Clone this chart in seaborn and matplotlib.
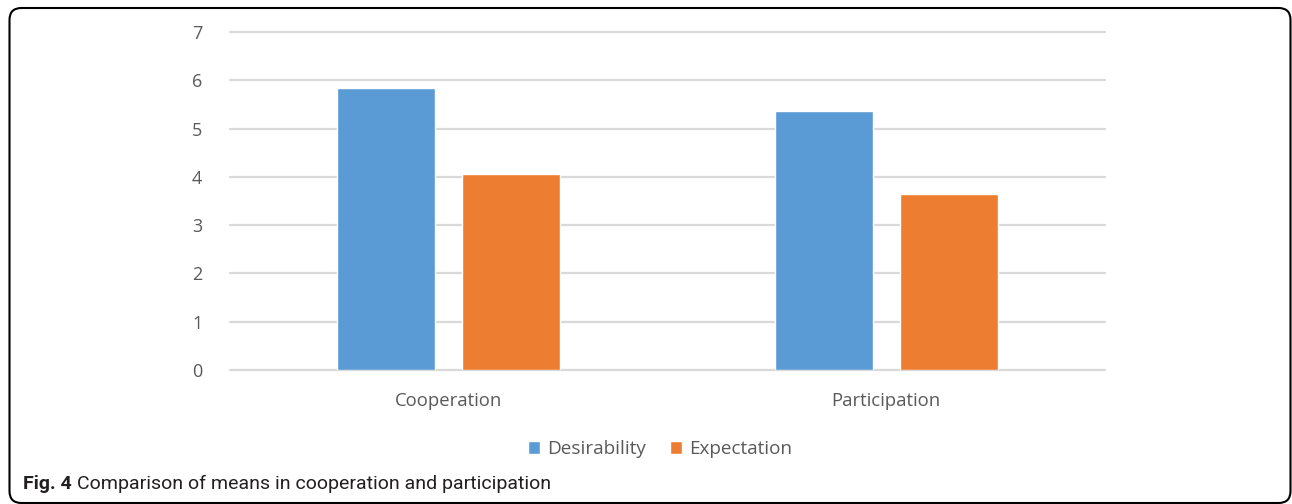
import pandas as pd
import matplotlib.pyplot as plt
import seaborn as sns
from matplotlib.patches import FancyBboxPatch
from matplotlib.transforms import IdentityTransform

# values
categories = ["Cooperation", "Participation"]
series = ["Desirability", "Expectation"]
desirability = [5.83, 5.37]
expectation = [4.05, 3.65]
y_ticks = [0, 1, 2, 3, 4, 5, 6, 7]

df = pd.DataFrame({
    "category": categories * 2,
    "series": [series[0]] * 2 + [series[1]] * 2,
    "value": desirability + expectation,
})

sns.set_style("white")
plt.rcParams["font.family"] = ["Open Sans", "DejaVu Sans"]
text_color = "#595959"

fig = plt.figure(figsize=(12.92, 5.04), dpi=100)
ax = fig.add_axes([230 / 1292, 1 - 370 / 504, 875 / 1292, 338 / 504])

sns.barplot(
    data=df, x="category", y="value", hue="series",
    palette=["#5B9BD5", "#ED7D31"], saturation=1, width=0.571, gap=0.216,
    ax=ax, legend=True, zorder=3,
)

ax.set_xlim(-0.5, 1.5)
ax.set_ylim(0, 7)
ax.set_yticks(y_ticks)
ax.grid(axis="y", color="#d9d9d9", linewidth=1.6, zorder=0)
for gl in ax.get_ygridlines():
    gl.set_clip_on(False)
ax.set_axisbelow(True)
for s in ax.spines.values():
    s.set_visible(False)
ax.set_xlabel("")
ax.set_ylabel("")
ax.tick_params(axis="y", length=0, pad=20, labelsize=13, labelcolor=text_color)
ax.tick_params(axis="x", length=0, pad=16, labelsize=13.3, labelcolor=text_color)

handles, labels = ax.get_legend_handles_labels()
ax.legend(
    handles, labels, loc="center", ncol=2, frameon=False,
    bbox_to_anchor=(660 / 1292, 1 - 449 / 504), bbox_transform=fig.transFigure,
    handlelength=0.64, handleheight=0.64, handletextpad=0.37,
    columnspacing=1.25, fontsize=13.6, labelcolor=text_color,
)

# caption
cap_font = ["Roboto", "DejaVu Sans"]
fig.text(23 / 1292, 1 - 484 / 504, "Fig. 4", fontsize=14, fontweight="bold",
         family=cap_font, color="#231f20", va="center", ha="left")
fig.text(77 / 1292, 1 - 484 / 504, "Comparison of means in cooperation and participation",
         fontsize=14, family=cap_font, color="#231f20", va="center", ha="left")

# rounded frame
frame = FancyBboxPatch((9.5, 1), 1281, 495, boxstyle="round,pad=0,rounding_size=12",
                       transform=IdentityTransform(), facecolor="none",
                       edgecolor="black", linewidth=1.5)
fig.patches.append(frame)

fig.savefig("out.png", dpi=100)
